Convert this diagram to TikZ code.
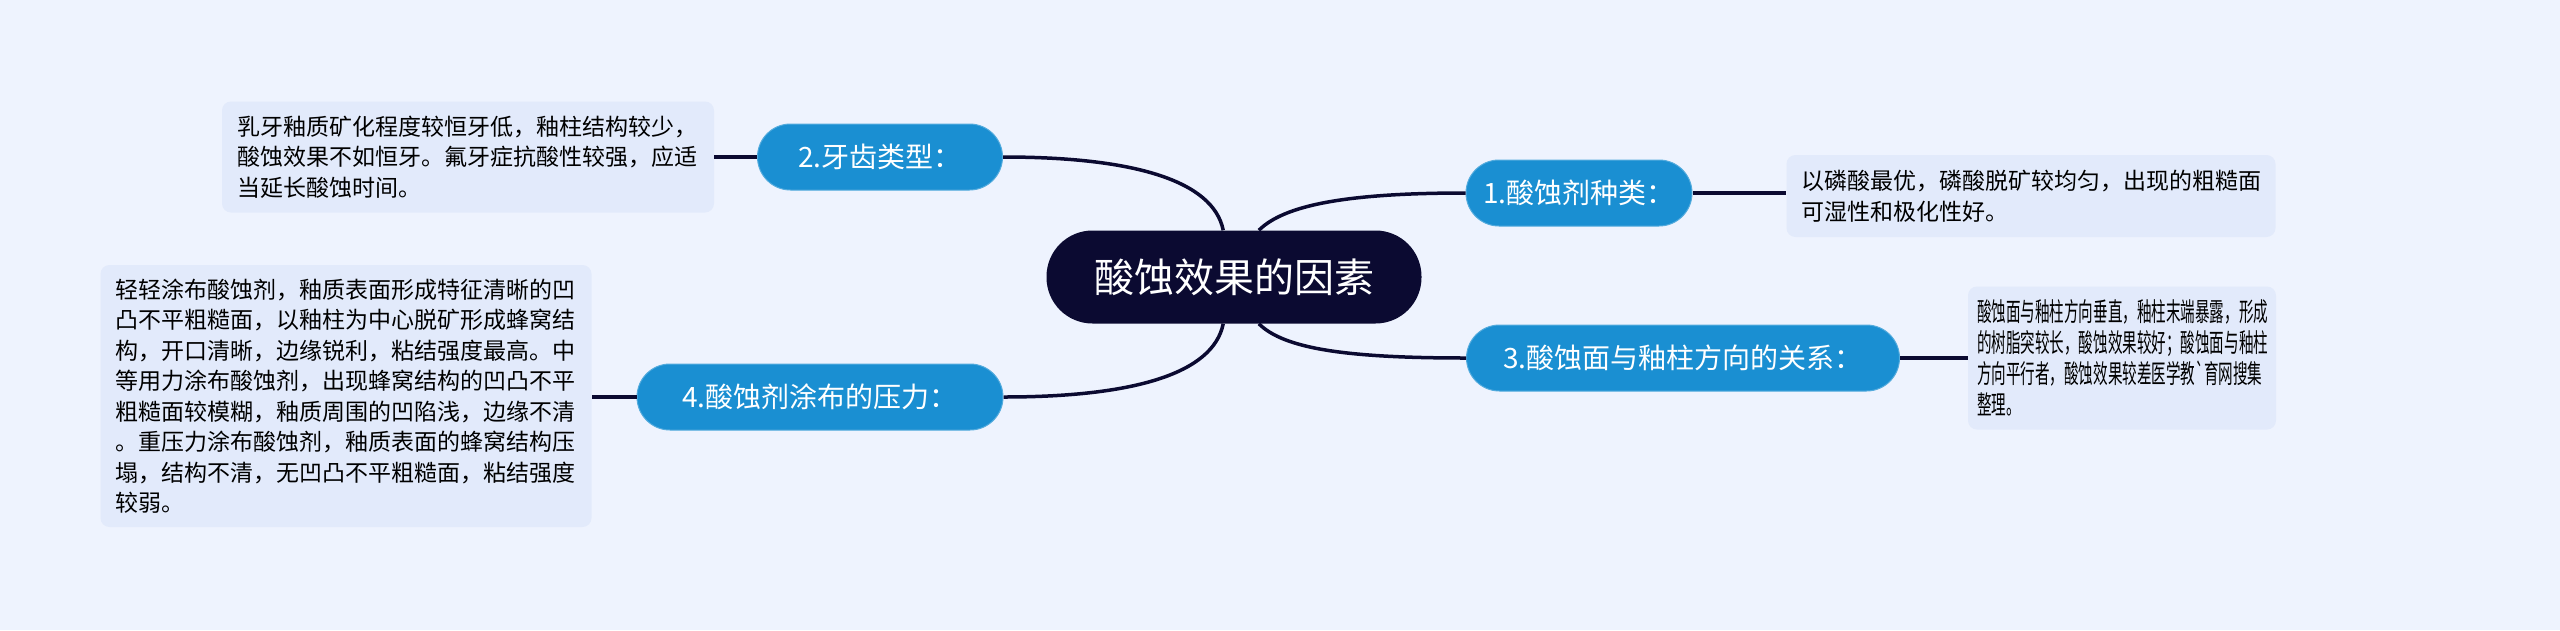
\documentclass[tikz,border=0pt]{standalone}
\usepackage{fontspec}
\newfontfamily\cjk{Noto Sans CJK SC}
\newfontfamily\cjknarrow[FakeStretch=0.56,Ligatures=TeXOff]{Noto Sans CJK SC}
\definecolor{bgblue}{HTML}{EEF3FE}
\definecolor{rootnavy}{HTML}{0B0A31}
\definecolor{topicblue}{HTML}{1A8FD2}
\definecolor{leaffill}{HTML}{E2EAFB}

\begin{document}
\begin{tikzpicture}[x=1pt,y=-1pt,
  link/.style={draw=rootnavy,line width=3.5pt},
  topic/.style={fill=topicblue,draw=topicblue!75!white,line width=1pt,rounded corners=33pt,minimum height=66pt,text=white,font=\cjk\fontsize{28}{34}\selectfont},
  leafbox/.style={fill=leaffill,rounded corners=9pt,align=left,inner xsep=15pt,inner ysep=0pt,font=\cjk\fontsize{23}{30.5}\selectfont}]
\fill[bgblue] (0,0) rectangle (2560,630);
\node[fill=rootnavy,rounded corners=46pt,minimum width=375pt,minimum height=93pt,text=white,font=\cjk\fontsize{40}{48}\selectfont] (root) at (1234,277) {酸蚀效果的因素};
\node[topic,minimum width=226pt] (acid) at (1579,193) {1.酸蚀剂种类：};
\node[topic,minimum width=245pt] (teeth) at (880,157) {2.牙齿类型：};
\node[topic,minimum width=433pt] (face) at (1683,358) {3.酸蚀面与釉柱方向的关系：};
\node[topic,minimum width=366pt] (press) at (820,397) {4.酸蚀剂涂布的压力：};
\node[leafbox,text width=459pt,minimum height=82pt] (acidnote) at (2031,196) {以磷酸最优，磷酸脱矿较均匀，出现的粗糙面\\可湿性和极化性好。};
\node[leafbox,text width=462pt,minimum height=111pt] (teethnote) at (468,157) {乳牙釉质矿化程度较恒牙低，釉柱结构较少，\\酸蚀效果不如恒牙。氟牙症抗酸性较强，应适\\当延长酸蚀时间。};
\node[leafbox,text width=290pt,inner xsep=9pt,minimum height=143pt,font=\cjknarrow\fontsize{26}{31}\selectfont] (facenote) at (2122,358) {酸蚀面与釉柱方向垂直，釉柱末端暴露，形成\\的树脂突较长，酸蚀效果较好；酸蚀面与釉柱\\方向平行者，酸蚀效果较差医学教`育网搜集\\整理。};
\node[leafbox,text width=461pt,minimum height=262pt] (pressnote) at (346,396) {轻轻涂布酸蚀剂，釉质表面形成特征清晰的凹\\凸不平粗糙面，以釉柱为中心脱矿形成蜂窝结\\构，开口清晰，边缘锐利，粘结强度最高。中\\等用力涂布酸蚀剂，出现蜂窝结构的凹凸不平\\粗糙面较模糊，釉质周围的凹陷浅，边缘不清\\。重压力涂布酸蚀剂，釉质表面的蜂窝结构压\\塌，结构不清，无凹凸不平粗糙面，粘结强度\\较弱。};
\draw[link] (teeth.east) .. controls +(130,0) and +(-10,-50) .. (root.103);
\draw[link] (root.62) .. controls +(25,-25) and +(-120,0) .. (acid.west);
\draw[link] (root.298) .. controls +(25,25) and +(-120,0) .. (face.west);
\draw[link] (press.east) .. controls +(130,0) and +(-10,50) .. (root.257);
\draw[link] (acid.east) -- (acid.east -| acidnote.west);
\draw[link] (teeth.west) -- (teeth.west -| teethnote.east);
\draw[link] (face.east) -- (face.east -| facenote.west);
\draw[link] (press.west) -- (press.west -| pressnote.east);
\end{tikzpicture}
\end{document}
